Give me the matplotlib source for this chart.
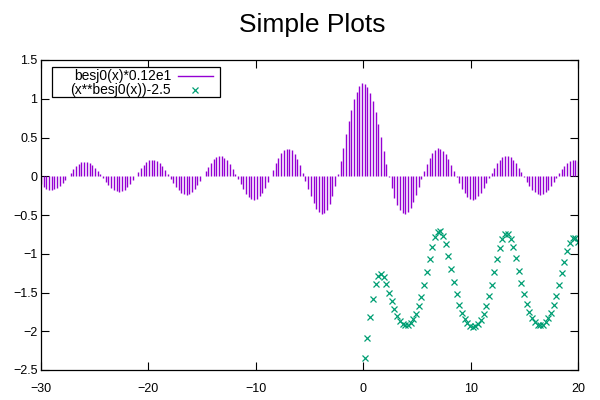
import matplotlib
matplotlib.use("Agg")
import matplotlib.pyplot as plt
from matplotlib.patches import Rectangle

plt.rcParams['font.family'] = ['Liberation Sans', 'DejaVu Sans']
plt.rcParams['axes.unicode_minus'] = True

x = [-30.000, -29.749, -29.497, -29.246, -28.995, -28.744, -28.492, -28.241, -27.990, -27.739,
     -27.487, -27.236, -26.985, -26.734, -26.482, -26.231, -25.980, -25.729, -25.477, -25.226,
     -24.975, -24.724, -24.472, -24.221, -23.970, -23.719, -23.467, -23.216, -22.965, -22.714,
     -22.462, -22.211, -21.960, -21.709, -21.457, -21.206, -20.955, -20.704, -20.452, -20.201,
     -19.950, -19.698, -19.447, -19.196, -18.945, -18.693, -18.442, -18.191, -17.940, -17.688,
     -17.437, -17.186, -16.935, -16.683, -16.432, -16.181, -15.930, -15.678, -15.427, -15.176,
     -14.925, -14.673, -14.422, -14.171, -13.920, -13.668, -13.417, -13.166, -12.915, -12.663,
     -12.412, -12.161, -11.910, -11.658, -11.407, -11.156, -10.905, -10.653, -10.402, -10.151,
     -9.899, -9.648, -9.397, -9.146, -8.894, -8.643, -8.392, -8.141, -7.889, -7.638,
     -7.387, -7.136, -6.884, -6.633, -6.382, -6.131, -5.879, -5.628, -5.377, -5.126,
     -4.874, -4.623, -4.372, -4.121, -3.869, -3.618, -3.367, -3.116, -2.864, -2.613,
     -2.362, -2.111, -1.859, -1.608, -1.357, -1.106, -0.854, -0.603, -0.352, -0.101,
     0.151, 0.402, 0.653, 0.905, 1.156, 1.407, 1.658, 1.910, 2.161, 2.412,
     2.663, 2.915, 3.166, 3.417, 3.668, 3.920, 4.171, 4.422, 4.673, 4.925,
     5.176, 5.427, 5.678, 5.930, 6.181, 6.432, 6.683, 6.935, 7.186, 7.437,
     7.688, 7.940, 8.191, 8.442, 8.693, 8.945, 9.196, 9.447, 9.698, 9.950,
     10.201, 10.452, 10.704, 10.955, 11.206, 11.457, 11.709, 11.960, 12.211, 12.462,
     12.714, 12.965, 13.216, 13.467, 13.719, 13.970, 14.221, 14.472, 14.724, 14.975,
     15.226, 15.477, 15.729, 15.980, 16.231, 16.482, 16.734, 16.985, 17.236, 17.487,
     17.739, 17.990, 18.241, 18.492, 18.744, 18.995, 19.246, 19.497, 19.749, 20.000]

impulses = [-0.104, -0.136, -0.160, -0.174, -0.177, -0.170, -0.151, -0.122, -0.086, -0.044,
            0.001, 0.047, 0.090, 0.128, 0.158, 0.178, 0.188, 0.185, 0.171, 0.146,
            0.112, 0.070, 0.023, -0.026, -0.073, -0.117, -0.153, -0.180, -0.196, -0.200,
            -0.192, -0.171, -0.139, -0.097, -0.049, 0.002, 0.054, 0.103, 0.146, 0.181,
            0.204, 0.215, 0.213, 0.197, 0.169, 0.129, 0.081, 0.027, -0.030, -0.085,
            -0.136, -0.179, -0.211, -0.231, -0.236, -0.226, -0.202, -0.164, -0.116, -0.060,
            0.001, 0.064, 0.123, 0.175, 0.218, 0.247, 0.261, 0.259, 0.240, 0.206,
            0.158, 0.099, 0.033, -0.037, -0.106, -0.170, -0.225, -0.267, -0.292, -0.300,
            -0.288, -0.259, -0.212, -0.150, -0.076, 0.004, 0.086, 0.165, 0.236, 0.295,
            0.336, 0.358, 0.357, 0.334, 0.288, 0.222, 0.139, 0.044, -0.059, -0.163,
            -0.261, -0.348, -0.418, -0.463, -0.483, -0.472, -0.430, -0.356, -0.253, -0.123,
            0.027, 0.192, 0.367, 0.541, 0.708, 0.860, 0.991, 1.093, 1.163, 1.197,
            1.193, 1.152, 1.075, 0.967, 0.831, 0.676, 0.506, 0.332, 0.159, -0.005,
            -0.151, -0.276, -0.373, -0.441, -0.476, -0.481, -0.457, -0.405, -0.332, -0.243,
            -0.142, -0.038, 0.063, 0.157, 0.237, 0.299, 0.341, 0.359, 0.355, 0.330,
            0.284, 0.223, 0.150, 0.069, -0.013, -0.092, -0.163, -0.222, -0.266, -0.292,
            -0.300, -0.288, -0.259, -0.215, -0.158, -0.093, -0.023, 0.046, 0.112, 0.169,
            0.214, 0.245, 0.261, 0.259, 0.242, 0.210, 0.166, 0.112, 0.051, -0.011,
            -0.071, -0.126, -0.173, -0.208, -0.229, -0.236, -0.228, -0.206, -0.171, -0.126,
            -0.074, -0.018, 0.038, 0.091, 0.138, 0.175, 0.201, 0.215, 0.214, 0.200]

points_x = x[120:]
points_y = [-2.348, -2.083, -1.817, -1.578, -1.394, -1.288, -1.262, -1.304, -1.393, -1.503,
            -1.616, -1.718, -1.801, -1.863, -1.903, -1.922, -1.919, -1.895, -1.847, -1.775,
            -1.677, -1.553, -1.404, -1.238, -1.067, -0.909, -0.786, -0.714, -0.707, -0.765,
            -0.879, -1.031, -1.200, -1.369, -1.523, -1.655, -1.760, -1.840, -1.896, -1.929,
            -1.940, -1.931, -1.901, -1.849, -1.773, -1.672, -1.547, -1.399, -1.237, -1.074,
            -0.926, -0.812, -0.748, -0.745, -0.804, -0.913, -1.058, -1.218, -1.378, -1.524,
            -1.650, -1.751, -1.827, -1.881, -1.913, -1.923, -1.914, -1.885, -1.834, -1.760,
            -1.663, -1.543, -1.404, -1.252, -1.100, -0.962, -0.857, -0.799, -0.797, -0.851]

series_labels = ["besj0(x)*0.12e1", "(x**besj0(x))-2.5"]
xticks = [-30, -20, -10, 0, 10, 20]
yticks = [-2.5, -2, -1.5, -1, -0.5, 0, 0.5, 1, 1.5]
xtick_labels = ["\u221230", "\u221220", "\u221210", "0", "10", "20"]
ytick_labels = ["\u22122.5", "\u22122", "\u22121.5", "\u22121", "\u22120.5", "0", "0.5", "1", "1.5"]

imp_color = "#9400d3"
pt_color = "#009e73"

fig = plt.figure(figsize=(6, 4), dpi=100)
ax = fig.add_axes([0.0683, 0.075, 0.8950, 0.775])

ax.vlines(x, 0, impulses, colors=imp_color, linewidth=1.0)
ax.plot(points_x, points_y, linestyle="none", marker="x", markersize=5,
        markeredgewidth=0.9, color=pt_color)

ax.set_xlim(-30, 20)
ax.set_ylim(-2.5, 1.5)
ax.set_xticks(xticks)
ax.set_xticklabels(xtick_labels)
ax.set_yticks(yticks)
ax.set_yticklabels(ytick_labels)
ax.tick_params(direction="in", length=6, width=0.8, top=True, right=True,
               labelsize=9, colors="black")
ax.tick_params(axis="x", pad=9)
ax.tick_params(axis="y", pad=2.5)
for s in ax.spines.values():
    s.set_linewidth(0.9)

fig.text(0.521, 0.92, "Simple Plots", fontsize=19, ha="center", va="baseline")

# gnuplot-style key: right-justified labels followed by the samples
tr = ax.transAxes
ax.add_patch(Rectangle((0.0205, 0.8806), 0.3128, 0.0968, transform=tr,
                       facecolor="white", edgecolor="black", linewidth=0.9,
                       zorder=5, clip_on=False))
row_y = [0.9494, 0.9032]
ax.text(0.2421, row_y[0], series_labels[0], transform=tr, ha="right",
        va="center", fontsize=10, zorder=6)
ax.text(0.2421, row_y[1], series_labels[1], transform=tr, ha="right",
        va="center", fontsize=10, zorder=6)
ax.plot([0.2551, 0.3203], [row_y[0], row_y[0]], transform=tr,
        color=imp_color, linewidth=1.0, zorder=6, clip_on=False)
ax.plot([0.2877], [row_y[1]], transform=tr, linestyle="none", marker="x",
        markersize=5, markeredgewidth=0.9, color=pt_color, zorder=6,
        clip_on=False)

fig.savefig("out.png", dpi=100)
